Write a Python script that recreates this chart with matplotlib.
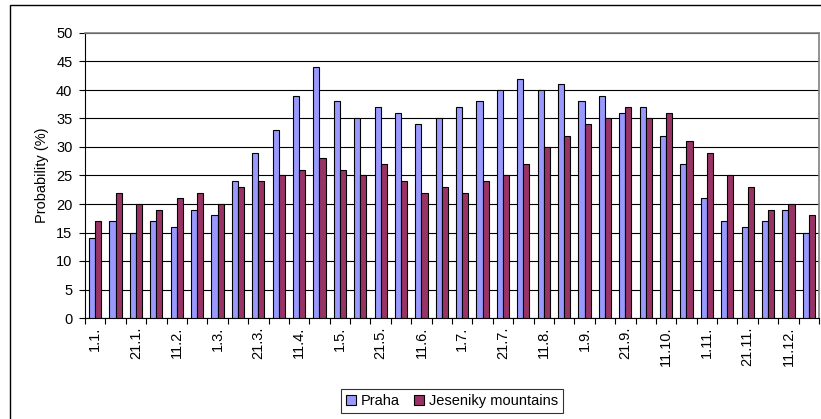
import numpy as np
import matplotlib.pyplot as plt
from matplotlib.patches import Rectangle

plt.rcParams['font.family'] = ['Liberation Sans', 'DejaVu Sans']

# dates every 10 days, label shown on every other one
dates = []
for m in range(1, 13):
    for d in (1, 11, 21):
        dates.append('%d.%d.' % (d, m))

praha = [14, 17, 15, 17, 16, 19, 18, 24, 29, 33, 39, 44,
         38, 35, 37, 36, 34, 35, 37, 38, 40, 42, 40, 41,
         38, 39, 36, 37, 32, 27, 21, 17, 16, 17, 19, 15]
jeseniky = [17, 22, 20, 19, 21, 22, 20, 23, 24, 25, 26, 28,
            26, 25, 27, 24, 22, 23, 22, 24, 25, 27, 30, 32,
            34, 35, 37, 35, 36, 31, 29, 25, 23, 19, 20, 18]

W, H = 821, 419
fs = 10.5
fig = plt.figure(figsize=(W / 100, H / 100), dpi=100)
fig.patch.set_facecolor('white')

# outer chart frame (cut off at right and bottom)
fig.patches.append(Rectangle((10 / W, -0.1), 1.0, 1 - 5 / H + 0.1,
                             transform=fig.transFigure, fill=False,
                             edgecolor='black', linewidth=1.0))

ax = fig.add_axes([85 / W, 1 - 318 / H, (819 - 85) / W, (318 - 33) / H])

x = np.arange(len(dates))
w = 0.3
ax.bar(x - w / 2, praha, w, color='#9999FF', edgecolor='black',
       linewidth=0.8, label='Praha', zorder=3)
ax.bar(x + w / 2, jeseniky, w, color='#993366', edgecolor='black',
       linewidth=0.8, label='Jeseniky mountains', zorder=3)

ax.set_xlim(-0.5, len(dates) - 0.5)
ax.set_ylim(0, 50)
ax.set_yticks(range(0, 51, 5))
ax.yaxis.grid(True, color='black', linewidth=0.8, zorder=0)

ax.set_xticks(x[::2])
ax.set_xticklabels(dates[::2], rotation=90, fontsize=fs)
ax.set_xticks(np.arange(-0.5, len(dates), 1), minor=True)
ax.tick_params(axis='x', which='major', length=0, pad=6)
ax.tick_params(axis='x', which='minor', length=4, width=0.8, direction='out')
ax.tick_params(axis='y', length=4, width=0.8, labelsize=fs, pad=5)

for s in ('top', 'right'):
    ax.spines[s].set_color('#808080')
    ax.spines[s].set_linewidth(1.2)
ax.spines['left'].set_linewidth(0.8)
ax.spines['bottom'].set_linewidth(0.8)

ax.set_ylabel('Probability (%)', fontsize=fs, labelpad=5)

leg = fig.legend(loc='center', bbox_to_anchor=(452 / W, 1 - 401 / H),
                 ncol=2, fontsize=fs, frameon=True, fancybox=False,
                 edgecolor='black', handlelength=0.7, handleheight=0.7,
                 handletextpad=0.3, columnspacing=1.0, borderpad=0.35,
                 borderaxespad=0)
leg.get_frame().set_linewidth(0.8)

fig.savefig('out.png', dpi=100)
